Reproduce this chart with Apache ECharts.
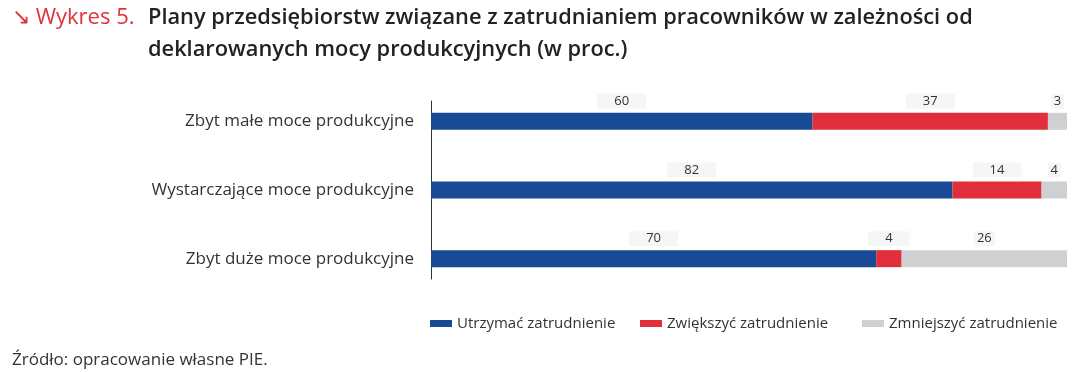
<!DOCTYPE html>
<html>
<head>
<meta charset="utf-8">
<script src="https://cdn.jsdelivr.net/npm/echarts@6/dist/echarts.min.js"></script>
<style>
html,body{margin:0;padding:0;background:#fff;}
#chart{width:1085px;height:372px;}
</style>
</head>
<body>
<div id="chart"></div>
<script>
var categories = ['Zbyt małe moce produkcyjne', 'Wystarczające moce produkcyjne', 'Zbyt duże moce produkcyjne'];
var seriesNames = ['Utrzymać zatrudnienie', 'Zwiększyć zatrudnienie', 'Zmniejszyć zatrudnienie'];
var utrzymac = [60, 82, 70];
var zwiekszyc = [37, 14, 4];
var zmniejszyc = [3, 4, 26];
var colors = ['#184a95', '#e02f3a', '#d0d0d2'];

var FONT = '"Open Sans"';
function labelCfg(pad) {
  return {
    show: true, position: 'top', distance: 4,
    color: '#333', fontFamily: FONT, fontSize: 13, lineHeight: 13,
    backgroundColor: '#f5f7f7', padding: pad
  };
}
function mk(name, data, color, pad) {
  return {
    name: name, type: 'bar', stack: 'all', data: data, barWidth: 17,
    xAxisIndex: 0, yAxisIndex: 0,
    itemStyle: { color: color }, label: labelCfg(pad)
  };
}
function leg(name, left) {
  return {
    left: left, top: 316, itemWidth: 22, itemHeight: 7, itemGap: 0, padding: 0,
    icon: 'rect',
    textStyle: { color: '#333', fontSize: 15, fontFamily: FONT },
    data: [name]
  };
}

var chart = echarts.init(document.getElementById('chart'));
chart.setOption({
  animation: false,
  textStyle: { fontFamily: FONT },
  title: [
    { text: '↘ Wykres 5.', left: 12, top: 2, padding: 0,
      textStyle: { color: '#e0313c', fontSize: 22, fontWeight: 'normal', lineHeight: 32, fontFamily: FONT } },
    { text: 'Plany przedsiębiorstw związane z zatrudnianiem pracowników w zależności od\ndeklarowanych mocy produkcyjnych (w proc.)', left: 148, top: 2, padding: 0,
      textStyle: { color: '#222', fontSize: 21.8, fontWeight: 600, lineHeight: 32, fontFamily: FONT } },
    { text: 'Źródło: opracowanie własne PIE.', left: 12, top: 352, padding: 0,
      textStyle: { color: '#333', fontSize: 17, fontWeight: 'normal', fontFamily: FONT } }
  ],
  legend: [
    leg(seriesNames[0], 430),
    leg(seriesNames[1], 640),
    leg(seriesNames[2], 862)
  ],
  grid: [
    { left: 431, right: 18, top: 87, height: 206 },
    { left: 431, right: 18, top: 101, height: 178 }
  ],
  xAxis: [
    { gridIndex: 0, type: 'value', min: 0, max: 100, show: false },
    { gridIndex: 1, type: 'value', min: 0, max: 100, show: false }
  ],
  yAxis: [
    { gridIndex: 0, type: 'category', data: categories, inverse: true,
      axisLine: { show: false }, axisTick: { show: false },
      axisLabel: { color: '#333', fontSize: 17, margin: 17, fontFamily: FONT } },
    { gridIndex: 1, type: 'value', min: 0, max: 1,
      axisLine: { show: true, lineStyle: { color: '#333', width: 1 } },
      axisTick: { show: false }, axisLabel: { show: false }, splitLine: { show: false } }
  ],
  series: [
    mk(seriesNames[0], utrzymac, colors[0], [1, 17]),
    mk(seriesNames[1], zwiekszyc, colors[1], [1, 17]),
    mk(seriesNames[2], zmniejszyc, colors[2], [1, 3])
  ]
});
</script>
</body>
</html>
